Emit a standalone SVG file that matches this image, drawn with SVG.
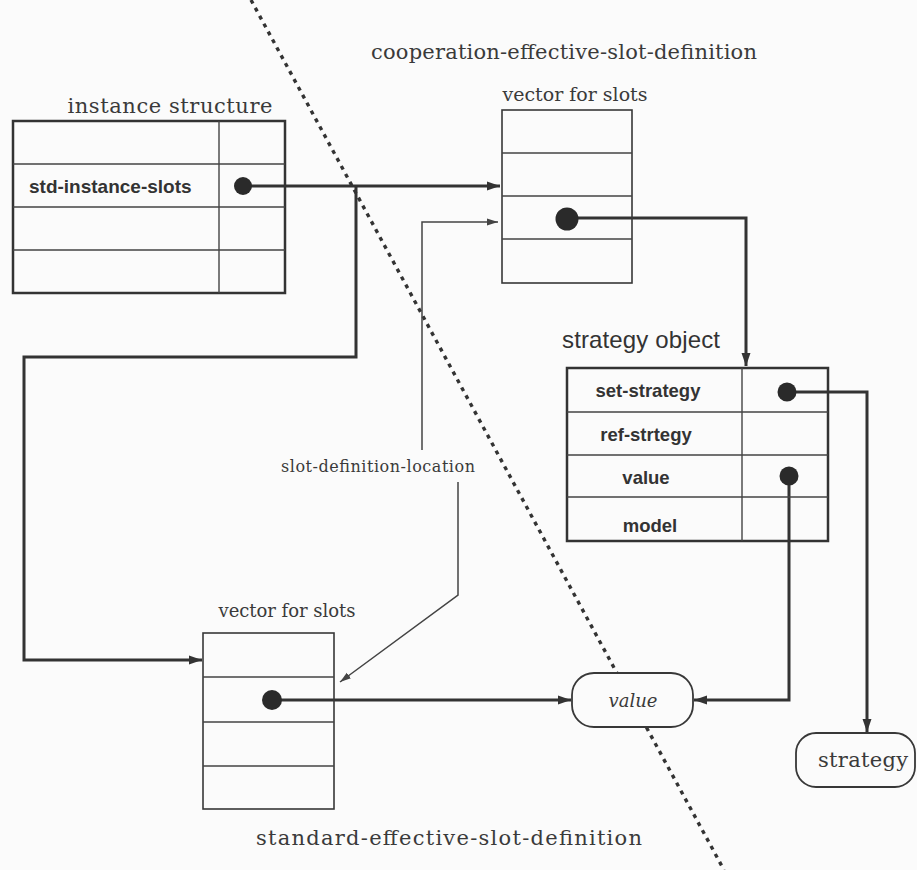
<svg xmlns="http://www.w3.org/2000/svg" width="917" height="870" viewBox="0 0 917 870">
<style>
.bg{fill:#fbfbfb}
.serif{font-family:"DejaVu Serif","Liberation Serif",serif;fill:#3a3a3a}
.sans{font-family:"Liberation Sans",Arial,sans-serif;fill:#333}
.bold{font-family:"Liberation Sans",Arial,sans-serif;font-weight:bold;fill:#333}
.box{fill:none;stroke:#383838}
.thickbox{fill:none;stroke:#333;stroke-width:2.5}
.cell{stroke:#444;stroke-width:1.4;fill:none}
.term{fill:#fbfbfb;stroke:#383838;stroke-width:1.8}
.dot{fill:#2a2a2a}
.thick{fill:none;stroke:#333;stroke-width:3}
.thin{fill:none;stroke:#444;stroke-width:1.5}
.divider{fill:none;stroke:#333;stroke-width:3.4;stroke-dasharray:4 5}
</style>
<defs>
<marker id="ah" markerUnits="userSpaceOnUse" markerWidth="14" markerHeight="10" refX="13" refY="5" orient="auto">
<path d="M0,0.5 L13,5 L0,9.5 z" fill="#333"/>
</marker>
<marker id="ahs" markerUnits="userSpaceOnUse" markerWidth="12" markerHeight="8" refX="11" refY="4" orient="auto">
<path d="M0,0.5 L11,4 L0,7.5 z" fill="#444"/>
</marker>
</defs>
<rect class="bg" x="0" y="0" width="917" height="870"/>

<g id="divider">
<line class="divider" x1="251" y1="0" x2="724" y2="870"/>
</g>

<g id="labels">
<text class="serif" x="564" y="59" font-size="21" text-anchor="middle" textLength="386" lengthAdjust="spacing">cooperation-effective-slot-definition</text>
<text class="serif" x="449" y="845" font-size="21" text-anchor="middle" textLength="386" lengthAdjust="spacing">standard-effective-slot-definition</text>
</g>

<g id="connectors">
<path class="thick" d="M243,186 H500" marker-end="url(#ah)"/>
<path class="thick" d="M356,186 V357 H24 V660 H202" marker-end="url(#ah)"/>
<path class="thick" d="M567,218 H746 V366" marker-end="url(#ah)"/>
<path class="thin" d="M422,450 V222 H498" marker-end="url(#ahs)"/>
<path class="thin" d="M458,482 V595 L340,682" marker-end="url(#ahs)"/>
<text class="serif" x="378" y="472" font-size="16" text-anchor="middle" textLength="194" lengthAdjust="spacing">slot-definition-location</text>
<path class="thick" d="M272,700 H571" marker-end="url(#ah)"/>
<path class="thick" d="M789,476 V700 H694" marker-end="url(#ah)"/>
<path class="thick" d="M787,392 H867 V732" marker-end="url(#ah)"/>
</g>

<g id="instance-structure">
<text class="serif" x="170" y="113" font-size="21" text-anchor="middle" textLength="205" lengthAdjust="spacing">instance structure</text>
<rect class="thickbox" x="13" y="121" width="272" height="172"/>
<path class="cell" d="M13,164 H285 M13,207 H285 M13,250 H285 M219,121 V293"/>
<text class="bold" x="29" y="193" font-size="19">std-instance-slots</text>
<circle class="dot" cx="243" cy="186" r="9"/>
</g>

<g id="vector-top">
<text class="serif" x="575" y="101" font-size="19" text-anchor="middle" textLength="145" lengthAdjust="spacing">vector for slots</text>
<rect class="box" x="502" y="110" width="130" height="173" stroke-width="1.6"/>
<path class="cell" d="M502,153 H632 M502,196 H632 M502,239 H632"/>
<circle class="dot" cx="567" cy="219" r="11.5"/>
</g>

<g id="strategy-object">
<text class="sans" x="562" y="348" font-size="24" textLength="158" lengthAdjust="spacing">strategy object</text>
<rect class="thickbox" x="567" y="368" width="261" height="173"/>
<path class="cell" d="M567,412 H828 M567,455 H828 M567,497 H828 M742,368 V541"/>
<text class="bold" x="648" y="397" font-size="18.5" text-anchor="middle">set-strategy</text>
<text class="bold" x="646" y="441" font-size="18.5" text-anchor="middle">ref-strtegy</text>
<text class="bold" x="646" y="484" font-size="18.5" text-anchor="middle">value</text>
<text class="bold" x="650" y="532" font-size="18.5" text-anchor="middle">model</text>
<circle class="dot" cx="787" cy="392" r="9.5"/>
<circle class="dot" cx="789" cy="476" r="9.5"/>
</g>

<g id="vector-bottom">
<text class="serif" x="287" y="617" font-size="18" text-anchor="middle" textLength="137" lengthAdjust="spacing">vector for slots</text>
<rect class="box" x="203" y="633" width="131" height="176" stroke-width="1.6"/>
<path class="cell" d="M203,677 H334 M203,722 H334 M203,766 H334"/>
<circle class="dot" cx="272" cy="700" r="10"/>
</g>

<g id="value">
<rect class="term" x="572" y="673" width="121" height="54" rx="22"/>
<text class="serif" x="633" y="707" font-size="18" font-style="italic" text-anchor="middle" textLength="49" lengthAdjust="spacingAndGlyphs">value</text>
</g>

<g id="strategy">
<rect class="term" x="796" y="733" width="119" height="54" rx="20"/>
<text class="serif" x="863" y="767" font-size="21" text-anchor="middle" textLength="90" lengthAdjust="spacing">strategy</text>
</g>
</svg>
